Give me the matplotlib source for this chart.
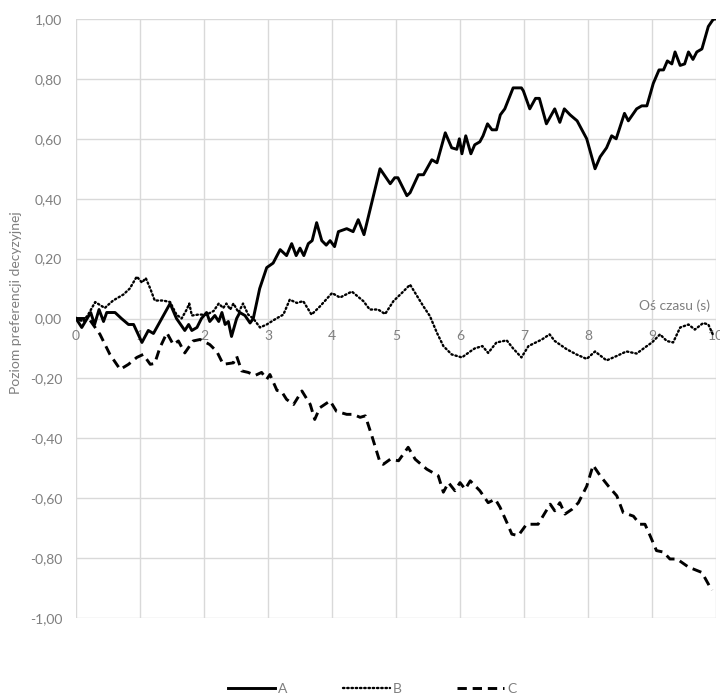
import matplotlib.pyplot as plt

plt.rcParams['font.family'] = ['Lato', 'DejaVu Sans']

# readings from the chart: time (s) and preference level
t_a = [0.0, 0.09, 0.23, 0.29, 0.36, 0.43, 0.48, 0.61, 0.71, 0.82, 0.9, 1.03, 1.13, 1.21, 1.34, 1.47,
       1.57, 1.7, 1.76, 1.81, 1.89, 1.96, 2.04, 2.09, 2.17, 2.23, 2.28, 2.33, 2.38, 2.43, 2.51,
       2.56, 2.64, 2.72, 2.77, 2.87, 2.98, 3.08, 3.19, 3.29, 3.37, 3.44, 3.5, 3.56, 3.63, 3.69,
       3.76, 3.84, 3.91, 3.97, 4.04, 4.1, 4.23, 4.33, 4.41, 4.5, 4.75, 4.91, 4.98, 5.03, 5.17,
       5.22, 5.35, 5.43, 5.56, 5.64, 5.77, 5.87, 5.95, 5.99, 6.03, 6.09, 6.17, 6.23, 6.31, 6.36,
       6.43, 6.5, 6.57, 6.63, 6.7, 6.83, 6.96, 6.99, 7.09, 7.18, 7.24, 7.35, 7.48, 7.56, 7.63,
       7.72, 7.83, 7.98, 8.11, 8.19, 8.29, 8.37, 8.44, 8.57, 8.63, 8.76, 8.84, 8.92, 9.02, 9.11,
       9.18, 9.24, 9.31, 9.36, 9.44, 9.51, 9.57, 9.64, 9.7, 9.78, 9.88, 9.96, 9.98]
v_a = [0.0, -0.03, 0.02, -0.02, 0.03, -0.01, 0.02, 0.02, 0.0, -0.02, -0.02, -0.08, -0.04, -0.05, 0.0, 0.05,
       0.0, -0.04, -0.02, -0.04, -0.03, 0.0, 0.02, -0.01, 0.01, -0.01, 0.02, -0.02, -0.01, -0.06, 0.0,
       0.02, 0.01, -0.015, 0.0, 0.1, 0.17, 0.185, 0.23, 0.21, 0.25, 0.21, 0.235, 0.21, 0.25, 0.26,
       0.32, 0.26, 0.245, 0.26, 0.24, 0.29, 0.3, 0.29, 0.33, 0.28, 0.5, 0.45, 0.47, 0.47, 0.41,
       0.42, 0.48, 0.48, 0.53, 0.52, 0.62, 0.57, 0.565, 0.6, 0.55, 0.61, 0.55, 0.58, 0.59, 0.61,
       0.65, 0.63, 0.63, 0.68, 0.7, 0.77, 0.77, 0.76, 0.7, 0.735, 0.735, 0.65, 0.7, 0.655, 0.7,
       0.68, 0.66, 0.6, 0.5, 0.54, 0.57, 0.61, 0.6, 0.685, 0.66, 0.7, 0.71, 0.71, 0.785, 0.83,
       0.83, 0.86, 0.85, 0.89, 0.845, 0.85, 0.89, 0.865, 0.89, 0.9, 0.975, 1.0, 1.0]

t_b = [0.0, 0.11, 0.19, 0.3, 0.375, 0.45, 0.5, 0.58, 0.74, 0.84, 0.95, 1.03, 1.09, 1.16, 1.23, 1.36,
       1.47, 1.57, 1.65, 1.73, 1.77, 1.81, 1.91, 2.04, 2.15, 2.23, 2.3, 2.35, 2.41, 2.46, 2.54,
       2.61, 2.69, 2.77, 2.875, 2.98, 3.13, 3.24, 3.34, 3.45, 3.55, 3.68, 3.81, 4.0, 4.125, 4.31,
       4.49, 4.59, 4.72, 4.83, 4.96, 5.09, 5.22, 5.43, 5.53, 5.64, 5.74, 5.87, 6.03, 6.16, 6.23,
       6.35, 6.44, 6.57, 6.73, 6.83, 6.96, 7.07, 7.28, 7.4, 7.48, 7.67, 7.82, 7.98, 8.11, 8.29,
       8.45, 8.6, 8.76, 8.92, 9.0, 9.125, 9.23, 9.33, 9.44, 9.57, 9.67, 9.8, 9.88, 9.95]
v_b = [0.0, -0.01, 0.013, 0.055, 0.045, 0.035, 0.045, 0.06, 0.08, 0.1, 0.14, 0.12, 0.135, 0.1, 0.06, 0.06,
       0.055, 0.013, 0.0, 0.03, 0.05, 0.01, 0.013, 0.013, 0.025, 0.05, 0.035, 0.05, 0.03, 0.05, 0.02,
       0.05, 0.013, 0.0, -0.03, -0.02, 0.0, 0.013, 0.063, 0.052, 0.058, 0.013, 0.04, 0.085, 0.07, 0.09,
       0.058, 0.03, 0.03, 0.015, 0.058, 0.085, 0.113, 0.04, 0.008, -0.048, -0.092, -0.12, -0.13, -0.11, -0.1,
       -0.092, -0.115, -0.08, -0.073, -0.1, -0.13, -0.092, -0.07, -0.053, -0.075, -0.103, -0.12, -0.135, -0.11, -0.14,
       -0.125, -0.11, -0.117, -0.092, -0.08, -0.053, -0.075, -0.08, -0.03, -0.02, -0.037, -0.015, -0.02, -0.053]

t_c = [0.0, 0.2, 0.375, 0.53, 0.69, 0.82, 0.95, 1.05, 1.16, 1.23, 1.31, 1.42, 1.52, 1.6, 1.7, 1.83,
       1.94, 2.09, 2.2, 2.3, 2.46, 2.51, 2.59, 2.69, 2.8, 2.9, 2.98, 3.03, 3.14, 3.21, 3.29, 3.4,
       3.53, 3.66, 3.73, 3.81, 3.97, 4.07, 4.23, 4.33, 4.44, 4.52, 4.62, 4.75, 4.8, 4.91, 5.04,
       5.19, 5.3, 5.48, 5.66, 5.74, 5.82, 5.92, 6.0, 6.08, 6.16, 6.31, 6.44, 6.55, 6.625, 6.73,
       6.81, 6.91, 7.04, 7.22, 7.33, 7.41, 7.48, 7.56, 7.64, 7.75, 7.85, 7.98, 8.08, 8.19, 8.32,
       8.45, 8.55, 8.71, 8.81, 8.89, 8.97, 9.07, 9.18, 9.28, 9.39, 9.57, 9.78, 9.91, 9.94]
v_c = [0.0, 0.0, -0.053, -0.12, -0.17, -0.153, -0.13, -0.12, -0.153, -0.15, -0.098, -0.048, -0.087, -0.075, -0.115, -0.075,
       -0.07, -0.087, -0.11, -0.153, -0.148, -0.126, -0.175, -0.18, -0.19, -0.18, -0.203, -0.187, -0.24, -0.243, -0.27, -0.287,
       -0.242, -0.287, -0.337, -0.298, -0.275, -0.31, -0.32, -0.32, -0.33, -0.325, -0.39, -0.48, -0.487, -0.47, -0.475,
       -0.43, -0.47, -0.503, -0.525, -0.58, -0.548, -0.575, -0.548, -0.57, -0.542, -0.575, -0.615, -0.603, -0.63, -0.68,
       -0.72, -0.725, -0.687, -0.687, -0.648, -0.62, -0.642, -0.615, -0.653, -0.637, -0.615, -0.56, -0.49, -0.525, -0.56,
       -0.592, -0.648, -0.66, -0.687, -0.687, -0.725, -0.775, -0.78, -0.803, -0.803, -0.83, -0.848, -0.898, -0.907]

y_ticks = [1.0, 0.8, 0.6, 0.4, 0.2, 0.0, -0.2, -0.4, -0.6, -0.8, -1.0]
x_ticks = list(range(0, 11))

grey = '#7f7f7f'
fig = plt.figure(figsize=(7.2, 6.94), dpi=100)
ax = fig.add_axes([76/720, 1-618/694, 640/720, 599/694])

ax.plot(t_a, v_a, color='black', lw=2.1, solid_joinstyle='round', label='A')
ax.plot(t_b, v_b, color='black', lw=1.7, linestyle=(0, (0.6, 1.2)), dash_capstyle='round', label='B')
ax.plot(t_c, v_c, color='black', lw=2.1, linestyle=(0, (3.2, 2.0)), label='C')

ax.set_xlim(0, 10)
ax.set_ylim(-1, 1)
ax.set_xticks(x_ticks)
ax.set_yticks(y_ticks)
ax.set_yticklabels([f'{v:.2f}'.replace('.', ',') for v in y_ticks])
ax.grid(True, color='#d9d9d9', lw=1.0)
ax.set_axisbelow(True)
for s in ax.spines.values():
    s.set_visible(False)
ax.spines['bottom'].set_position(('data', 0))
ax.tick_params(axis='both', length=0, labelcolor=grey, labelsize=10)
ax.tick_params(axis='y', pad=10)
ax.tick_params(axis='x', pad=8)

# x axis title sits just above the zero line, at the right
ax.text(710, 694 - 306, 'Oś czasu (s)', transform=None, ha='right', va='center', color=grey, fontsize=10)
fig.text(16/720, 1-303/694, 'Poziom preferencji decyzyjnej', rotation=90, ha='center', va='center',
         color=grey, fontsize=10)

fig.legend(loc='center', bbox_to_anchor=(372/720, 1-689/694), ncol=3, frameon=False,
           handlelength=3.4, handletextpad=0.2, columnspacing=4.0, fontsize=10, labelcolor=grey)

fig.savefig('out.png', dpi=100)
